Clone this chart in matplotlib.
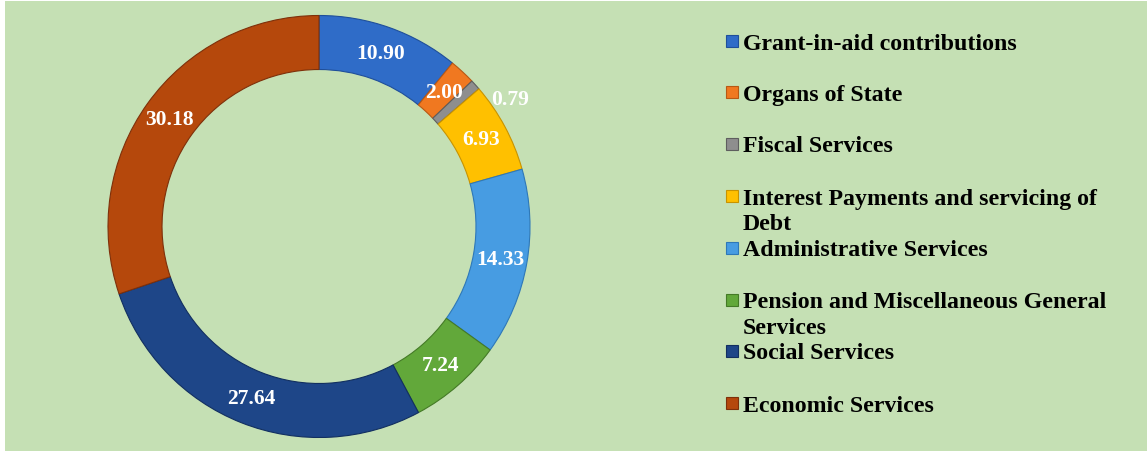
import matplotlib
matplotlib.use("Agg")
import matplotlib.pyplot as plt
from matplotlib.patches import Rectangle
import numpy as np

categories = [
    "Grant-in-aid contributions",
    "Organs of State",
    "Fiscal Services",
    "Interest Payments and servicing of\nDebt",
    "Administrative Services",
    "Pension and Miscellaneous General\nServices",
    "Social Services",
    "Economic Services",
]
values = [10.90, 2.00, 0.79, 6.93, 14.33, 7.24, 27.64, 30.18]
value_labels = ["10.90", "2.00", "0.79", "6.93", "14.33", "7.24", "27.64", "30.18"]
colors = ["#2F6CC8", "#F07820", "#8E8E8E", "#FFC000", "#479CE2", "#62A83A", "#1E4688", "#B5480C"]
edge_colors = ["#1F4F9A", "#B85814", "#5E5E5E", "#C89300", "#2E78B8", "#447A26", "#122F60", "#7E300A"]

W, H = 1147, 452
BG = "#C5E0B4"
plt.rcParams["font.family"] = ["Liberation Serif", "DejaVu Serif"]

fig = plt.figure(figsize=(W / 100, H / 100), dpi=100, facecolor="white")
fig.patches.append(Rectangle((5 / W, 0), 1 - 5 / W, 1 - 2 / H, transform=fig.transFigure,
                             facecolor=BG, edgecolor="none", zorder=-5))

cx, cy, R = 319, 227.5, 211
ax = fig.add_axes([(cx - R) / W, 1 - (cy + R) / H, 2 * R / W, 2 * R / H])
ax.set_facecolor("none")
ring_w = 0.256
wedges, _ = ax.pie(values, colors=colors, startangle=90, counterclock=False,
                   radius=1.0, wedgeprops=dict(width=ring_w, linewidth=0.8))
for w, ec in zip(wedges, edge_colors):
    w.set_edgecolor(ec)
ax.set_xlim(-1, 1)
ax.set_ylim(-1, 1)
ax.set_aspect("equal")
ax.axis("off")

total = sum(values)
cum = 0.0
for i, (v, lab) in enumerate(zip(values, value_labels)):
    mid = 90 - 360 * (cum + v / 2) / total
    cum += v
    r = 1 - ring_w / 2
    if v < 1.0:
        r = 1.09
        mid -= 8.5
    th = np.deg2rad(mid)
    ax.text(r * np.cos(th), r * np.sin(th), lab, ha="center", va="center",
            color="white", fontsize=15.5, fontweight="bold")

# legend
leg_y = [42, 93, 145, 197, 249, 301, 352, 404]
line_px = 26
for name, col, ec, y in zip(categories, colors, edge_colors, leg_y):
    fig.patches.append(Rectangle((726 / W, 1 - (y + 6) / H), 12 / W, 12 / H,
                                 transform=fig.transFigure, facecolor=col,
                                 edgecolor=ec, linewidth=0.8, zorder=2))
    for k, line in enumerate(name.split("\n")):
        fig.text(743 / W, 1 - (y + 7.5 + k * line_px) / H, line, ha="left", va="baseline",
                 fontsize=17.2, fontweight="bold", color="black")

fig.savefig("out.png", dpi=100, facecolor="white")
